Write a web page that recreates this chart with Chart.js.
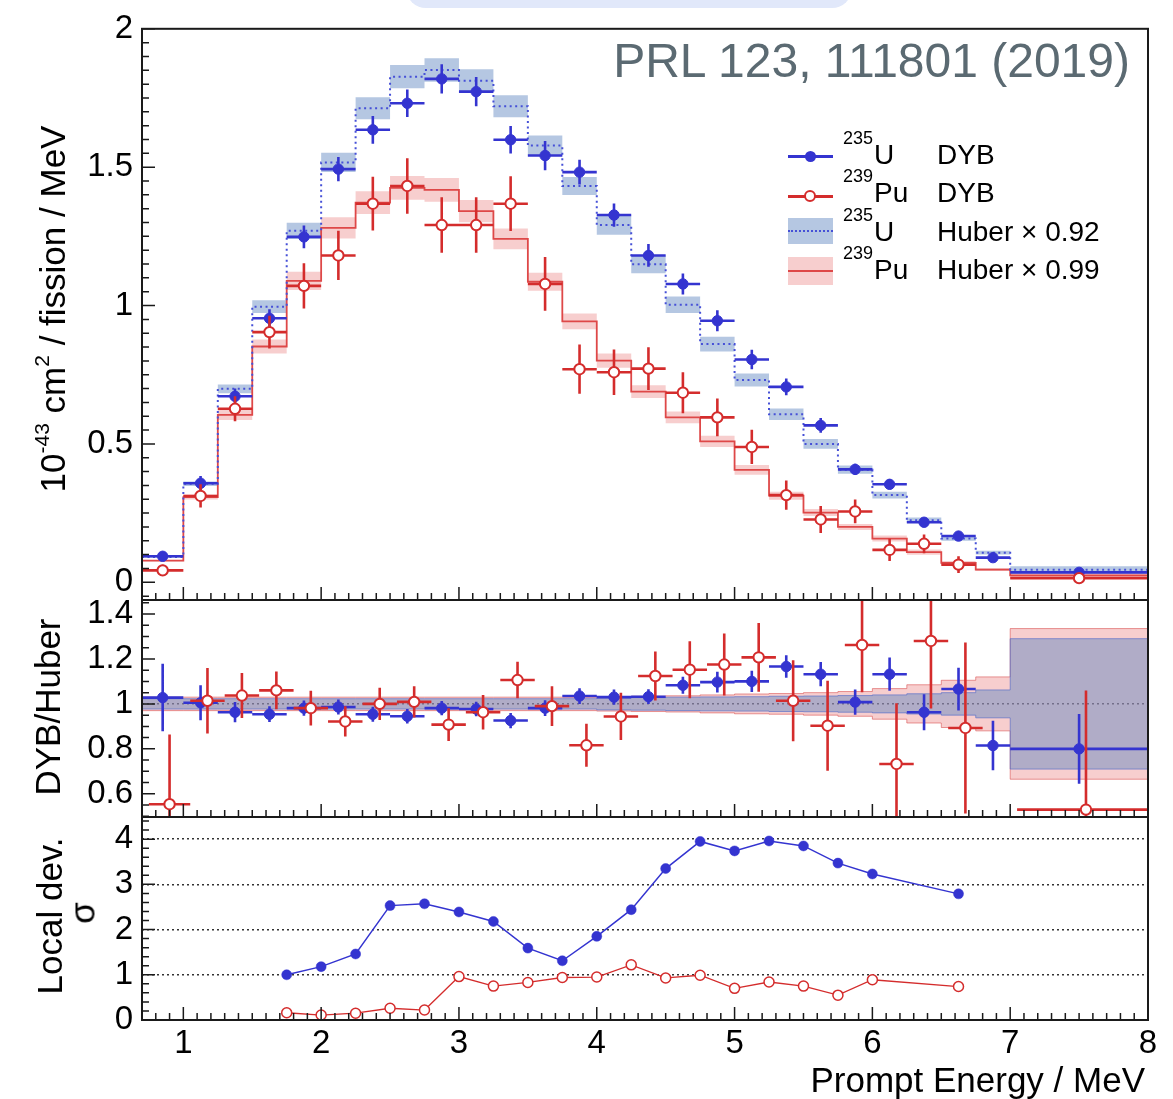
<!DOCTYPE html>
<html>
<head>
<meta charset="utf-8">
<title>Daya Bay 235U / 239Pu IBD yield spectra</title>
<script src="https://cdn.jsdelivr.net/npm/chart.js@4.4.1/dist/chart.umd.min.js"></script>
<style>
  html, body { margin:0; padding:0; background:#ffffff; }
  #wrap { position:relative; width:1173px; height:1099px; overflow:hidden; background:#fff;
          font-family:"Liberation Sans", Arial, Helvetica, sans-serif; color:#000; }
  #wrap canvas { position:absolute; left:0; top:0; }
  .t { position:absolute; white-space:nowrap; line-height:1; z-index:5; }
  .rt { position:absolute; white-space:nowrap; line-height:1; z-index:5; transform:translate(-50%,-50%) rotate(-90deg); }
  .sup { font-size:0.6em; position:relative; top:-0.75em; }
  .sym { position:absolute; z-index:5; box-sizing:border-box; }
</style>
</head>
<body>
<div id="wrap">
  <div style="position:absolute;left:406px;top:-32px;width:446px;height:40px;border-radius:20px;background:#e1e8fa;"></div>
  <canvas id="cTop" width="1173" height="1099"></canvas>
  <canvas id="cRatio" width="1173" height="1099"></canvas>
  <canvas id="cDev" width="1173" height="1099"></canvas>

  <div class="t" style="right:43px;top:37px;font-size:48px;color:#5b6a72;">PRL 123, 111801 (2019)</div>

  <!-- legend symbols -->
  <div class="sym" style="left:788px;top:155px;width:45px;height:3px;background:rgb(52,52,208);"></div>
  <div class="sym" style="left:805px;top:151px;width:11px;height:11px;border-radius:50%;background:rgb(52,52,208);"></div>
  <div class="sym" style="left:788px;top:195px;width:45px;height:3px;background:rgb(212,44,44);"></div>
  <div class="sym" style="left:804px;top:190px;width:12px;height:12px;border-radius:50%;background:#fff;border:2px solid rgb(212,44,44);"></div>
  <div class="sym" style="left:788px;top:218px;width:45px;height:26px;background:rgba(90,130,190,0.45);"></div>
  <div class="sym" style="left:788px;top:230px;width:45px;height:0;border-top:2px dotted rgb(70,80,215);"></div>
  <div class="sym" style="left:788px;top:257px;width:45px;height:28px;background:rgba(225,80,80,0.28);"></div>
  <div class="sym" style="left:788px;top:270px;width:45px;height:2px;background:rgb(222,72,72);"></div>

  <!-- legend text -->
  <div class="t" style="left:843px;top:129px;font-size:18px;">235</div>
  <div class="t" style="left:874px;top:141px;font-size:28px;">U</div>
  <div class="t" style="left:937px;top:141px;font-size:28px;">DYB</div>
  <div class="t" style="left:843px;top:167px;font-size:18px;">239</div>
  <div class="t" style="left:874px;top:179px;font-size:28px;">Pu</div>
  <div class="t" style="left:937px;top:179px;font-size:28px;">DYB</div>
  <div class="t" style="left:843px;top:206px;font-size:18px;">235</div>
  <div class="t" style="left:874px;top:218px;font-size:28px;">U</div>
  <div class="t" style="left:937px;top:218px;font-size:28px;">Huber × 0.92</div>
  <div class="t" style="left:843px;top:244px;font-size:18px;">239</div>
  <div class="t" style="left:874px;top:256px;font-size:28px;">Pu</div>
  <div class="t" style="left:937px;top:256px;font-size:28px;">Huber × 0.99</div>

  <!-- axis titles -->
  <div class="rt" style="left:52px;top:309px;font-size:35px;">10<span class="sup">-43</span> cm<span class="sup">2</span> / fission / MeV</div>
  <div class="rt" style="left:47px;top:707px;font-size:35px;">DYB/Huber</div>
  <div class="rt" style="left:49px;top:916px;font-size:35px;">Local dev.</div>
  <div class="rt" style="left:82px;top:913px;font-size:35px;">σ</div>
  <div class="t" style="right:28px;top:1062px;font-size:35px;">Prompt Energy / MeV</div>
</div>

<script>
// ---------------- data ----------------
const binEdges = [0.7, 1.0, 1.25, 1.5, 1.75, 2.0, 2.25, 2.5, 2.75, 3.0, 3.25, 3.5, 3.75, 4.0,
                  4.25, 4.5, 4.75, 5.0, 5.25, 5.5, 5.75, 6.0, 6.25, 6.5, 6.75, 7.0, 8.0];

// 235U DYB measured yield (1e-43 cm2/fission/MeV) and errors
const uData = [0.094, 0.358, 0.672, 0.954, 1.248, 1.493, 1.635, 1.731, 1.819, 1.773, 1.599, 1.542, 1.482,
               1.327, 1.181, 1.078, 0.945, 0.805, 0.706, 0.567, 0.408, 0.354, 0.217, 0.167, 0.089, 0.036];
const uErr  = [0.015, 0.026, 0.028, 0.033, 0.041, 0.044, 0.050, 0.050, 0.053, 0.053, 0.050, 0.053, 0.045,
               0.042, 0.041, 0.038, 0.038, 0.035, 0.030, 0.027, 0.020, 0.018, 0.013, 0.012, 0.010, 0.007];
// 235U Huber x 0.92 prediction and relative uncertainty
const uHuber = [0.091, 0.356, 0.699, 0.996, 1.270, 1.517, 1.713, 1.827, 1.851, 1.812, 1.720, 1.578, 1.432,
                1.291, 1.149, 1.003, 0.861, 0.731, 0.607, 0.500, 0.407, 0.315, 0.224, 0.158, 0.107, 0.045];
const uHuberRelErr = [0.023, 0.023, 0.023, 0.023, 0.023, 0.023, 0.023, 0.023, 0.023, 0.023, 0.023, 0.023, 0.023,
                      0.027, 0.028, 0.030, 0.031, 0.032, 0.034, 0.035, 0.037, 0.040, 0.045, 0.050, 0.062, 0.290];

// 239Pu DYB measured yield and errors
const puData = [0.043, 0.312, 0.627, 0.904, 1.071, 1.181, 1.368, 1.432, 1.291, 1.291, 1.368, 1.078, 0.770,
                0.759, 0.772, 0.685, 0.596, 0.489, 0.315, 0.227, 0.256, 0.117, 0.139, 0.064, null, 0.015];
const puErr  = [0.020, 0.042, 0.045, 0.059, 0.082, 0.089, 0.097, 0.100, 0.100, 0.100, 0.099, 0.097, 0.089,
                0.082, 0.077, 0.074, 0.068, 0.062, 0.053, 0.049, 0.043, 0.040, 0.034, 0.030, null, 0.012];
// 239Pu Huber x 0.99 prediction and relative uncertainty
const puHuber = [0.078, 0.308, 0.605, 0.852, 1.089, 1.281, 1.372, 1.425, 1.418, 1.341, 1.241, 1.086, 0.943,
                 0.801, 0.689, 0.596, 0.509, 0.406, 0.313, 0.252, 0.200, 0.158, 0.109, 0.070, 0.046, 0.025];
const puHuberRelErr = [0.030, 0.030, 0.030, 0.030, 0.030, 0.030, 0.030, 0.030, 0.030, 0.030, 0.030, 0.030, 0.030,
                       0.032, 0.034, 0.036, 0.040, 0.044, 0.046, 0.050, 0.055, 0.068, 0.085, 0.105, 0.120, 0.335];

// DYB / Huber ratios
const uRatio    = [1.028, 1.005, 0.963, 0.954, 0.981, 0.986, 0.954, 0.945, 0.981, 0.977, 0.926, 0.981, 1.035,
                   1.030, 1.032, 1.083, 1.097, 1.100, 1.166, 1.132, 1.008, 1.132, 0.963, 1.066, 0.815, 0.800];
const uRatioErr = [0.150, 0.078, 0.045, 0.035, 0.034, 0.033, 0.033, 0.032, 0.032, 0.032, 0.034, 0.035, 0.035,
                   0.034, 0.033, 0.038, 0.046, 0.047, 0.050, 0.054, 0.056, 0.074, 0.080, 0.095, 0.110, 0.155];
const puRatio    = [0.554, 1.014, 1.037, 1.060, 0.981, 0.922, 1.000, 1.009, 0.908, 0.963, 1.106, 0.990, 0.816,
                    0.944, 1.124, 1.152, 1.175, 1.207, 1.014, 0.903, 1.262, 0.733, 1.280, 0.893, null, 0.530];
const puRatioErr = [0.310, 0.146, 0.100, 0.084, 0.077, 0.067, 0.072, 0.070, 0.073, 0.077, 0.081, 0.088, 0.096,
                    0.105, 0.109, 0.127, 0.138, 0.153, 0.180, 0.200, 0.210, 0.270, 0.300, 0.380, null, 0.530];

// local deviation (sigma)
const devX  = [1.75, 2.0, 2.25, 2.5, 2.75, 3.0, 3.25, 3.5, 3.75, 4.0, 4.25, 4.5, 4.75, 5.0, 5.25, 5.5, 5.75, 6.0, 6.625];
const devU  = [1.00, 1.18, 1.46, 2.53, 2.57, 2.39, 2.18, 1.59, 1.31, 1.85, 2.44, 3.35, 3.95, 3.74, 3.96, 3.85, 3.47, 3.23, 2.79];
const devPu = [0.16, 0.11, 0.15, 0.26, 0.22, 0.96, 0.75, 0.83, 0.94, 0.95, 1.22, 0.93, 0.99, 0.70, 0.84, 0.75, 0.55, 0.89, 0.74];

// tick labels
const xTicks = [1, 2, 3, 4, 5, 6, 7, 8];
const topYTicks = [0, 0.5, 1, 1.5, 2];
const ratioYTicks = [0.6, 0.8, 1, 1.2, 1.4];
const devYTicks = [0, 1, 2, 3, 4];

// ---------------- styling ----------------
const X_MIN = 0.7, X_MAX = 8.0;
const RATIO_PU_SHIFT = 0.05;   // Pu points drawn slightly offset in ratio panel
const C_U = 'rgb(52,52,208)', C_PU = 'rgb(212,44,44)';
const C_U_BAND = 'rgba(90,130,190,0.45)', C_PU_BAND = 'rgba(225,80,80,0.28)';
const C_U_HUBER = 'rgb(70,80,215)', C_PU_HUBER = 'rgb(222,72,72)';
const FONT_FAMILY = '"Liberation Sans", Arial, Helvetica, sans-serif';
const TICK_FONT = 33;
Chart.defaults.font.family = FONT_FAMILY;
Chart.defaults.color = '#000';

const nBins = binEdges.length - 1;
const binMid = i => (binEdges[i] + binEdges[i + 1]) / 2;

function stepPoints(vals) {
  return binEdges.map((e, i) => ({ x: e, y: vals[Math.min(i, nBins - 1)] }));
}
function crossPoints(vals, errs, dx) {
  const pts = [];
  vals.forEach((v, i) => {
    if (v === null) return;
    const xc = binMid(i) + dx, e = errs[i];
    pts.push({ x: xc, y: v - e }, { x: xc, y: v + e }, { x: xc, y: null });
    pts.push({ x: binEdges[i] + dx, y: v }, { x: binEdges[i + 1] + dx, y: v }, { x: binEdges[i + 1] + dx, y: null });
  });
  return pts;
}
function markerPoints(vals, dx) {
  return vals.map((v, i) => ({ x: binMid(i) + dx, y: v })).filter(p => p.y !== null);
}
function stepLine(vals, color, width, dash, order) {
  return { type: 'line', data: stepPoints(vals), borderColor: color, borderWidth: width, borderDash: dash,
           stepped: true, pointRadius: 0, fill: false, order };
}
function band(upper, lower, fillColor, lineColor, lineWidth, order) {
  return [
    { type: 'line', data: stepPoints(upper), borderColor: lineColor, borderWidth: lineWidth, stepped: true,
      pointRadius: 0, fill: false, order },
    { type: 'line', data: stepPoints(lower), borderColor: lineColor, borderWidth: lineWidth, stepped: true,
      pointRadius: 0, fill: '-1', backgroundColor: fillColor, order }
  ];
}
function errBars(vals, errs, color, width, dx, order) {
  return { type: 'line', data: crossPoints(vals, errs, dx), borderColor: color, borderWidth: width,
           pointRadius: 0, spanGaps: false, fill: false, order };
}
function markers(vals, filled, color, dx, order) {
  return { type: 'line', data: markerPoints(vals, dx), showLine: false, pointRadius: 5.2,
           pointBackgroundColor: filled ? color : '#ffffff', pointBorderColor: color,
           pointBorderWidth: filled ? 1 : 2, order };
}

// frame + inward ROOT-style tick marks
const rootFrame = {
  id: 'rootFrame',
  afterDraw(chart, args, o) {
    const { ctx, chartArea: a } = chart;
    const xs = chart.scales.x, ys = chart.scales.y;
    const loop = (scale, spec, draw) => {
      const k0 = Math.ceil(scale.min / spec.minor - 1e-6), k1 = Math.floor(scale.max / spec.minor + 1e-6);
      for (let k = k0; k <= k1; k++) {
        const v = k * spec.minor, r = v / spec.major;
        const major = Math.abs(r - Math.round(r)) < 1e-6;
        draw(scale.getPixelForValue(v), major ? spec.majorLen : spec.minorLen);
      }
    };
    ctx.save();
    ctx.strokeStyle = '#1a1a1a';
    ctx.lineWidth = 1.5;
    ctx.beginPath();
    loop(ys, o.y, (p, len) => { ctx.moveTo(a.left, p); ctx.lineTo(a.left + len, p); });
    loop(xs, o.x, (p, len) => { ctx.moveTo(p, a.bottom); ctx.lineTo(p, a.bottom - len); });
    ctx.stroke();
    ctx.lineWidth = 2;
    ctx.strokeRect(a.left, a.top, a.right - a.left, a.bottom - a.top);
    ctx.restore();
  }
};

const xTickSpec = { minor: 0.1, major: 1, minorLen: 7, majorLen: 13 };

function makeChart(id, datasets, opt) {
  return new Chart(document.getElementById(id), {
    type: 'line',
    data: { datasets },
    plugins: [rootFrame],
    options: {
      responsive: false, animation: false, events: [],
      layout: { padding: { left: 0, right: 25, top: opt.padTop, bottom: opt.padBottom } },
      plugins: { legend: { display: false }, tooltip: { enabled: false },
                 rootFrame: { x: xTickSpec, y: opt.yTickSpec } },
      scales: {
        x: {
          type: 'linear', min: X_MIN, max: X_MAX, display: opt.showX, position: 'bottom',
          grid: { display: false, drawTicks: false }, border: { display: false },
          afterBuildTicks: s => { s.ticks = xTicks.map(v => ({ value: v })); },
          afterFit: s => { if (opt.showX) s.height = 40; },
          ticks: { font: { size: TICK_FONT }, color: '#000', padding: 4, maxRotation: 0, autoSkip: false,
                   callback: v => String(v) }
        },
        y: {
          type: 'linear', min: opt.yMin, max: opt.yMax,
          afterBuildTicks: s => { s.ticks = opt.yTicks.map(v => ({ value: v })); },
          afterFit: s => { s.width = 142; },
          grid: { display: !!opt.gridAt, drawTicks: false, lineWidth: 1.4,
                  color: c => (opt.gridAt && c.tick && opt.gridAt.includes(c.tick.value)) ? opt.gridColor : 'rgba(0,0,0,0)' },
          border: { display: false, dash: [2, 3] },
          ticks: { font: { size: TICK_FONT }, color: '#000', padding: 9, callback: v => String(v) }
        }
      }
    }
  });
}

// ---------------- top panel: spectra ----------------
const topSets = [
  ...band(puHuber.map((v, i) => v * (1 + puHuberRelErr[i])), puHuber.map((v, i) => v * (1 - puHuberRelErr[i])),
          C_PU_BAND, 'rgba(0,0,0,0)', 0, 10),
  ...band(uHuber.map((v, i) => v * (1 + uHuberRelErr[i])), uHuber.map((v, i) => v * (1 - uHuberRelErr[i])),
          C_U_BAND, 'rgba(0,0,0,0)', 0, 9),
  stepLine(puHuber, C_PU_HUBER, 1.8, [], 8),
  stepLine(uHuber, C_U_HUBER, 2, [2, 3.5], 7),
  errBars(uData, uErr, C_U, 2.6, 0, 6),
  markers(uData, true, C_U, 0, 5),
  errBars(puData, puErr, C_PU, 2.6, 0, 4),
  markers(puData, false, C_PU, 0, 3)
];
makeChart('cTop', topSets, {
  padTop: 19, padBottom: 1099 - 600, showX: false,
  yMin: -0.064, yMax: 2.0, yTicks: topYTicks,
  yTickSpec: { minor: 0.05, major: 0.5, minorLen: 7, majorLen: 13 }
});

// ---------------- middle panel: ratio ----------------
const ratioSets = [
  ...band(puHuberRelErr.map(r => 1 + r), puHuberRelErr.map(r => 1 - r), C_PU_BAND, 'rgba(215,70,70,0.55)', 1, 10),
  ...band(uHuberRelErr.map(r => 1 + r), uHuberRelErr.map(r => 1 - r), C_U_BAND, 'rgba(70,100,200,0.6)', 1, 9),
  errBars(uRatio, uRatioErr, C_U, 2.6, 0, 6),
  markers(uRatio, true, C_U, 0, 5),
  errBars(puRatio, puRatioErr, C_PU, 2.6, RATIO_PU_SHIFT, 4),
  markers(puRatio, false, C_PU, RATIO_PU_SHIFT, 3)
];
makeChart('cRatio', ratioSets, {
  padTop: 600, padBottom: 1099 - 817, showX: false,
  yMin: 0.497, yMax: 1.462, yTicks: ratioYTicks,
  gridAt: [1], gridColor: '#666',
  yTickSpec: { minor: 0.05, major: 0.2, minorLen: 7, majorLen: 13 }
});

// ---------------- bottom panel: local deviation ----------------
const devSets = [
  { type: 'line', data: devX.map((x, i) => ({ x, y: devU[i] })), borderColor: C_U, borderWidth: 1.5,
    pointRadius: 5, pointBackgroundColor: C_U, pointBorderColor: C_U, pointBorderWidth: 0.5, fill: false, order: 2 },
  { type: 'line', data: devX.map((x, i) => ({ x, y: devPu[i] })), borderColor: C_PU, borderWidth: 1.3,
    pointRadius: 5, pointBackgroundColor: '#ffffff', pointBorderColor: C_PU, pointBorderWidth: 1.5, fill: false, order: 1 }
];
makeChart('cDev', devSets, {
  padTop: 817, padBottom: 1099 - 1020 - 40, showX: true,
  yMin: 0, yMax: 4.49, yTicks: devYTicks,
  gridAt: [1, 2, 3, 4], gridColor: '#333',
  yTickSpec: { minor: 0.2, major: 1, minorLen: 7, majorLen: 13 }
});
</script>
</body>
</html>
